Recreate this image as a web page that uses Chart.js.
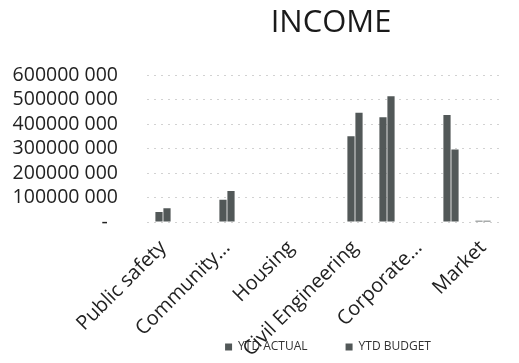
<!DOCTYPE html>
<html>
<head>
<meta charset="utf-8">
<title>INCOME</title>
<script src="https://cdn.jsdelivr.net/npm/chart.js@4/dist/chart.umd.min.js"></script>
<style>
  html, body { margin: 0; padding: 0; background: #fff; }
  #wrap { width: 519px; height: 363px; }
</style>
</head>
<body>
<div id="wrap"><canvas id="incomeChart" width="519" height="363"></canvas></div>
<script>
// departments; only every second one gets a printed label
var categories = ["Public safety", "", "Community...", "", "Housing", "", "Civil Engineering", "", "Corporate...", "", "Market"];
var ytdActual = [41000000, 0, 91000000, 0, 0, 0, 350000000, 428000000, 0, 437000000, 5000000];
var ytdBudget = [56000000, 0, 127000000, 0, 0, 0, 447000000, 514000000, 0, 296000000, 5000000];
var yTicks = [0, 100000000, 200000000, 300000000, 400000000, 500000000, 600000000];

(function () {
  var FONT = "'Open Sans', sans-serif";
  Chart.defaults.font.family = FONT;
  Chart.defaults.color = "#222";

  // 600000000 -> "600000 000", 0 -> "-"
  function money(v) {
    if (v === 0) return "-  ";
    var rest = String(v % 1000);
    while (rest.length < 3) rest = "0" + rest;
    return Math.floor(v / 1000) + " " + rest;
  }

  // the category labels run down over the legend, so let the x axis
  // keep its short height for layout but draw labels to the canvas bottom;
  // title and legend sit a little right of the plot centre
  function shift(box, dx) {
    box.left += dx;
    box.right += dx;
  }
  var layoutTweaks = {
    id: "layoutTweaks",
    afterLayout: function (chart) {
      chart.scales.x.bottom = chart.height;
      shift(chart.titleBlock, 8);
      shift(chart.legend, 5);
    }
  };

  new Chart(document.getElementById("incomeChart"), {
    type: "bar",
    data: {
      labels: categories,
      datasets: [
        { label: "YTD ACTUAL", data: ytdActual, backgroundColor: "#525858", borderWidth: 0 },
        { label: "YTD BUDGET", data: ytdBudget, backgroundColor: "#525858", borderWidth: 0 }
      ]
    },
    plugins: [layoutTweaks],
    options: {
      responsive: false,
      animation: false,
      layout: { padding: { left: 0, right: 20, top: 0, bottom: 0 } },
      datasets: { bar: { categoryPercentage: 0.5, barPercentage: 0.9 } },
      plugins: {
        title: {
          display: true,
          text: "INCOME",
          fullSize: false,
          color: "#1a1a1a",
          font: { size: 31, weight: "normal" },
          padding: { top: 5, bottom: 33 }
        },
        legend: {
          position: "bottom",
          fullSize: false,
          labels: {
            boxWidth: 7,
            boxHeight: 7,
            padding: 38,
            color: "#333",
            font: { size: 12 }
          }
        },
        tooltip: { enabled: false }
      },
      scales: {
        x: {
          grid: { display: false, drawTicks: false },
          border: { display: false },
          ticks: {
            autoSkip: false,
            minRotation: 45,
            maxRotation: 45,
            padding: 14,
            color: "#222",
            font: { size: 20 }
          },
          afterFit: function (scale) { scale.height = 81; }
        },
        y: {
          min: 0,
          max: 600000000,
          grid: { color: "#d2d2d2", lineWidth: 1, drawTicks: false },
          border: { display: false, dash: [2, 5] },
          afterBuildTicks: function (scale) {
            scale.ticks = yTicks.map(function (v) { return { value: v }; });
          },
          ticks: {
            autoSkip: false,
            padding: 29,
            color: "#222",
            font: { size: 19.5 },
            callback: function (v) { return money(v); }
          },
          afterFit: function (scale) { scale.width = 147; }
        }
      }
    }
  });
})();
</script>
</body>
</html>
